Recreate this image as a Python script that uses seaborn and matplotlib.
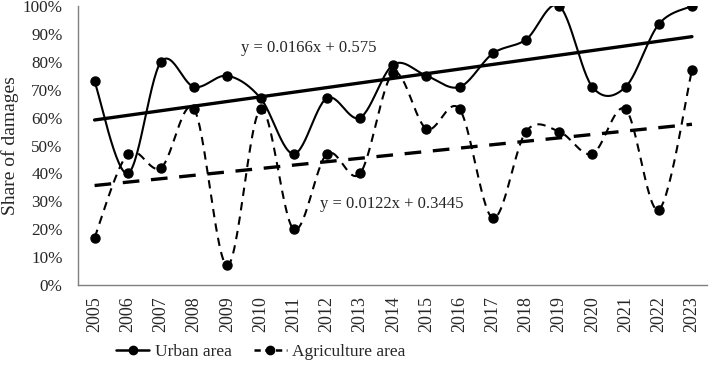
import numpy as np
import pandas as pd
import seaborn as sns
import matplotlib.pyplot as plt
from matplotlib.lines import Line2D
from matplotlib.ticker import PercentFormatter

years = list(range(2005, 2024))
urban = [0.73, 0.40, 0.80, 0.71, 0.75, 0.67, 0.47, 0.67, 0.60, 0.79,
         0.75, 0.71, 0.83, 0.88, 1.00, 0.71, 0.71, 0.935, 1.00]
agri = [0.17, 0.47, 0.42, 0.63, 0.07, 0.63, 0.20, 0.47, 0.40, 0.76,
        0.56, 0.63, 0.24, 0.55, 0.55, 0.47, 0.63, 0.27, 0.77]

# trend equations as printed on the chart (x = 1..19)
urban_fit = (0.0166, 0.575)
agri_fit = (0.0122, 0.3445)


def smooth(xs, ys, n=30):
    # excel-like smoothed line (catmull-rom bezier)
    p = np.column_stack([xs, ys]).astype(float)
    p = np.vstack([p[0], p, p[-1]])
    out = []
    for i in range(1, len(p) - 2):
        p0, p1, p2, p3 = p[i - 1], p[i], p[i + 1], p[i + 2]
        b1 = p1 + (p2 - p0) / 6
        b2 = p2 - (p3 - p1) / 6
        t = np.linspace(0, 1, n)[:, None]
        seg = ((1 - t) ** 3) * p1 + 3 * ((1 - t) ** 2) * t * b1 + 3 * (1 - t) * t ** 2 * b2 + t ** 3 * p2
        out.append(seg if i == 1 else seg[1:])
    out = np.vstack(out)
    return out[:, 0], out[:, 1]


sns.set_theme(style="white")
plt.rcParams['font.family'] = ['Liberation Serif', 'DejaVu Serif']

df = pd.DataFrame({'idx': np.arange(len(years)), 'urban': urban, 'agri': agri})

fig = plt.figure(figsize=(7.09, 3.68), dpi=100)
ax = fig.add_axes([0.110, 0.2255, 0.887, 0.758])

ux, uy = smooth(df['idx'], df['urban'])
ax.plot(ux, uy, color='black', lw=1.5)
ax.plot(df['idx'], df['urban'], 'o', color='black', ms=6.5)

axx, axy = smooth(df['idx'], df['agri'])
ax.plot(axx, axy, color='black', lw=1.5, ls=(0, (4, 3)))
ax.plot(df['idx'], df['agri'], 'o', color='black', ms=6.5)

tx = df['idx'] + 1
sns.lineplot(x=df['idx'], y=urban_fit[0] * tx + urban_fit[1], color='black', lw=2.4, ax=ax)
sns.lineplot(x=df['idx'], y=agri_fit[0] * tx + agri_fit[1], color='black', lw=2.4,
             linestyle=(0, (5, 3.5)), ax=ax)

ax.text(4.4, 0.85, 'y = 0.0166x + 0.575', fontsize=12, va='center', ha='left')
ax.text(6.8, 0.29, 'y = 0.0122x + 0.3445', fontsize=12, va='center', ha='left')

ax.set_xlim(-0.5, 18.45)
ax.set_ylim(0, 1.0)
ax.set_yticks(np.arange(0, 1.01, 0.1))
ax.yaxis.set_major_formatter(PercentFormatter(1.0, decimals=0))
ax.set_xticks(df['idx'])
ax.set_xticklabels(years, rotation=90)
ax.tick_params(axis='y', length=0, pad=11, labelsize=12.3)
ax.tick_params(axis='x', length=0, pad=8, labelsize=13)
ax.set_xlabel('')
ax.set_ylabel('Share of damages', fontsize=14, labelpad=3)

for s in ['top', 'right']:
    ax.spines[s].set_visible(False)
for s in ['left', 'bottom']:
    ax.spines[s].set_color('#7f7f7f')
    ax.spines[s].set_linewidth(1.0)

handles = [Line2D([], [], color='black', lw=1.8, marker='o', ms=6),
           Line2D([], [], color='black', lw=1.8, ls=(0, (2.5, 1.8)), marker='o', ms=6)]
fig.legend(handles, ['Urban area', 'Agriculture area'], loc='center',
           bbox_to_anchor=(0.368, 0.043), ncol=2, frameon=False, fontsize=12.5,
           handlelength=1.9, columnspacing=1.3, handletextpad=0.3)

fig.savefig('out.png', dpi=100)
